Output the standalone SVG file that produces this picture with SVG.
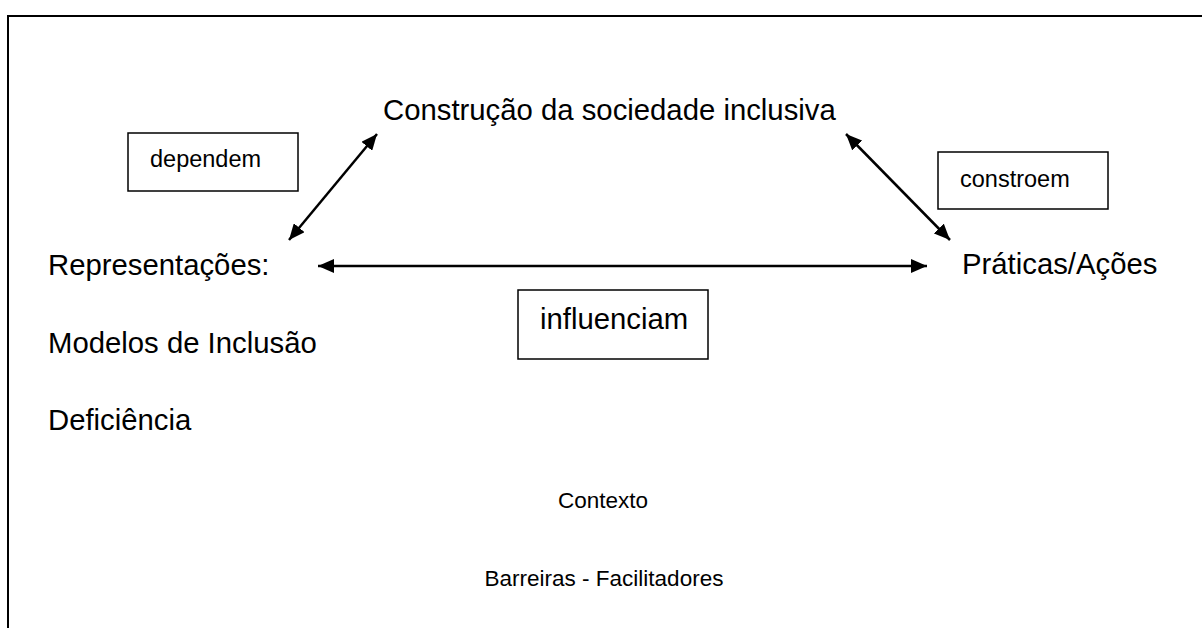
<svg xmlns="http://www.w3.org/2000/svg" width="1202" height="628" viewBox="0 0 1202 628">
<defs>
<style>
.t{font-family:"Liberation Sans",Arial,sans-serif;fill:#000;}
.big{font-size:29.3px;}
.mid{font-size:22.5px;}
.small{font-size:23.5px;}
.box{fill:#fff;stroke:#000;stroke-width:1.5;}
.conn{stroke:#000;stroke-width:2.5;fill:none;marker-start:url(#ah);marker-end:url(#ah);}
</style>
<marker id="ah" viewBox="0 0 16 14" refX="16" refY="7" markerWidth="16" markerHeight="14" markerUnits="userSpaceOnUse" orient="auto-start-reverse">
<path d="M0,0 L16,7 L0,14 z" fill="#000"/>
</marker>
</defs>
<rect width="1202" height="628" fill="#fff"/>
<rect x="8" y="16" width="1250" height="700" fill="none" stroke="#000" stroke-width="2"/>
<g id="connectors">
<line class="conn" x1="289" y1="240" x2="377" y2="134"/>
<line class="conn" x1="846" y1="134" x2="950" y2="240"/>
<line class="conn" x1="318" y1="266" x2="927" y2="266"/>
</g>
<g id="n-construcao"><text class="t big" x="383" y="120">Construção da sociedade inclusiva</text></g>
<g id="n-dependem"><rect class="box" x="128" y="133" width="170" height="58"/><text class="t small" x="150" y="167">dependem</text></g>
<g id="n-constroem"><rect class="box" x="938" y="152" width="170" height="57"/><text class="t small" x="960" y="187">constroem</text></g>
<g id="n-representacoes"><text class="t big" x="48" y="275">Representações:</text></g>
<g id="n-praticas"><text class="t big" x="962" y="274">Práticas/Ações</text></g>
<g id="n-influenciam"><rect class="box" x="518" y="290" width="190" height="69"/><text class="t big" x="540" y="329">influenciam</text></g>
<g id="n-modelos"><text class="t big" x="48" y="353">Modelos de Inclusão</text></g>
<g id="n-deficiencia"><text class="t big" x="48" y="430">Deficiência</text></g>
<g id="n-contexto"><text class="t mid" x="603" y="508" text-anchor="middle">Contexto</text></g>
<g id="n-barreiras"><text class="t mid" x="604" y="586" text-anchor="middle">Barreiras - Facilitadores</text></g>
</svg>
